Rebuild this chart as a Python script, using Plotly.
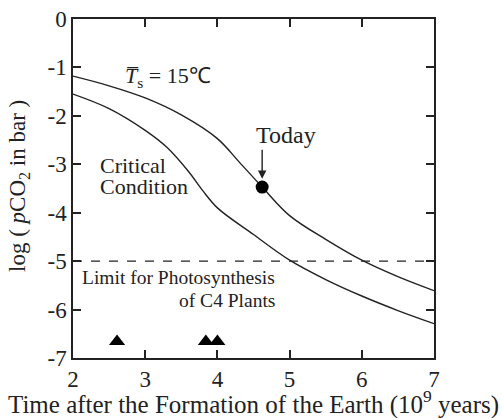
import plotly.graph_objects as go

# Data
time_upper = [2.0, 2.5, 3.0, 3.5, 4.0, 4.3, 4.62, 5.0, 5.5, 6.0, 6.5, 7.0]
pco2_upper = [-1.18, -1.38, -1.63, -1.98, -2.47, -2.95, -3.47, -4.06, -4.55, -4.98, -5.32, -5.61]

time_lower = [2.0, 2.5, 3.0, 3.3, 3.6, 3.8, 4.0, 4.5, 5.0, 5.5, 6.0, 6.5, 7.0]
pco2_lower = [-1.55, -1.85, -2.30, -2.65, -3.15, -3.55, -3.90, -4.45, -4.98, -5.38, -5.72, -6.02, -6.29]

today_time = [4.62]
today_pco2 = [-3.47]

triangle_time = [2.61, 3.84, 4.0]
triangle_pco2 = [-6.66, -6.66, -6.66]

limit_level = -5
x_ticks = [2, 3, 4, 5, 6, 7]
y_ticks = [0, -1, -2, -3, -4, -5, -6, -7]

SERIF = "Liberation Serif"
BLACK = "#222222"

fig = go.Figure()
fig.add_trace(go.Scatter(x=time_upper, y=pco2_upper, mode="lines",
                         line=dict(color=BLACK, width=1.4, shape="spline", smoothing=1.0),
                         hoverinfo="skip", showlegend=False))
fig.add_trace(go.Scatter(x=time_lower, y=pco2_lower, mode="lines",
                         line=dict(color=BLACK, width=1.4, shape="spline", smoothing=1.0),
                         hoverinfo="skip", showlegend=False))
fig.add_trace(go.Scatter(x=[2, 7], y=[limit_level, limit_level], mode="lines",
                         line=dict(color=BLACK, width=1.2, dash="dash"),
                         hoverinfo="skip", showlegend=False))
fig.add_trace(go.Scatter(x=today_time, y=today_pco2, mode="markers",
                         marker=dict(color="black", size=13),
                         hoverinfo="skip", showlegend=False))
fig.add_trace(go.Scatter(x=triangle_time, y=triangle_pco2, mode="markers",
                         marker=dict(color="black", size=14, symbol="triangle-up"),
                         hoverinfo="skip", showlegend=False))

axis_common = dict(showline=True, linecolor=BLACK, linewidth=1.5, mirror="ticks",
                   ticks="inside", ticklen=8, tickwidth=1.5, tickcolor=BLACK,
                   showgrid=False, zeroline=False, automargin=False,
                   tickfont=dict(family=SERIF, size=23, color=BLACK))

fig.update_xaxes(range=[2, 7], tickvals=x_ticks, ticktext=[str(v) for v in x_ticks], **axis_common)
fig.update_yaxes(range=[-7, 0], tickvals=y_ticks, ticktext=[str(v) for v in y_ticks], **axis_common)


def txt(text, x, y, size, xanchor="left", **kw):
    return dict(text=text, xref="x", yref="y", x=x, y=y, xanchor=xanchor, yanchor="middle",
                showarrow=False, font=dict(family=SERIF, size=size, color=BLACK), **kw)


annotations = [
    dict(text="Time after the Formation of the Earth (10<sup>9</sup> years)",
         xref="paper", yref="paper", x=0.5, y=-0.13, xanchor="center", yanchor="middle",
         showarrow=False, font=dict(family=SERIF, size=25, color=BLACK)),
    dict(text="log ( <i>p</i>CO<sub>2</sub> in bar )",
         xref="paper", yref="paper", x=-0.15, y=0.507, xanchor="center", yanchor="middle",
         textangle=-90, showarrow=False, font=dict(family=SERIF, size=23, color=BLACK)),
    txt("<i>T\u0305</i><sub>s</sub> = 15\u2103", 2.69, -1.2, 22),
    txt("Critical", 2.35, -3.03, 22),
    txt("Condition", 2.35, -3.46, 22),
    txt("Today", 4.95, -2.40, 24, xanchor="center"),
    dict(text="", xref="x", yref="y", x=4.62, y=-3.3, ax=4.62, ay=-2.67,
         axref="x", ayref="y", showarrow=True, arrowhead=2, arrowsize=1.2, arrowwidth=1.4,
         arrowcolor=BLACK),
    txt("Limit for Photosynthesis", 4.83, -5.34, 19.5, xanchor="right"),
    txt("of C4 Plants", 4.83, -5.82, 19.5, xanchor="right"),
]

fig.update_layout(width=502, height=418, margin=dict(l=73, r=68, t=19, b=60),
                  plot_bgcolor="white", paper_bgcolor="white",
                  font=dict(family=SERIF, color=BLACK),
                  annotations=annotations, showlegend=False)

fig.write_html("out.html", config={"displayModeBar": False},
               post_script="document.body.style.margin='0px';")
